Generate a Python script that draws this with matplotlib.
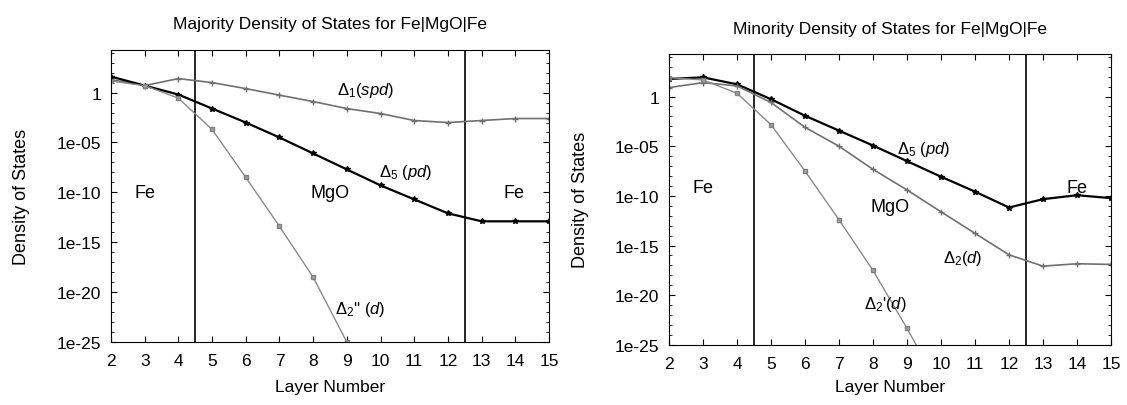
import matplotlib
matplotlib.use('Agg')
import matplotlib.pyplot as plt
import numpy as np

# layer numbers and log10 of density of states
layers = np.arange(2, 16)

maj_d1 = [1.3, 0.7, 1.4, 1.0, 0.4, -0.26, -0.9, -1.6, -2.1, -2.8, -3.0, -2.8, -2.6, -2.6]
maj_d5 = [1.6, 0.7, -0.2, -1.6, -3.0, -4.5, -6.1, -7.7, -9.3, -10.7, -12.1, -12.9, -12.9, -12.9]
maj_d2p_layers = np.arange(2, 10)
maj_d2p = [1.15, 0.7, -0.56, -3.7, -8.5, -13.4, -18.5, -25.0]

min_d5 = [1.77, 1.93, 1.23, -0.27, -1.93, -3.43, -4.93, -6.5, -8.07, -9.57, -11.17, -10.33, -9.93, -10.23]
min_d2 = [0.9, 1.4, 1.07, -0.6, -3.1, -5.0, -7.33, -9.4, -11.6, -13.77, -15.93, -17.07, -16.83, -16.9]
min_d2p_layers = np.arange(2, 11)
min_d2p = [1.9, 1.67, 0.33, -2.83, -7.5, -12.4, -17.5, -23.33, -29.5]

ytick_vals = [1, 1e-5, 1e-10, 1e-15, 1e-20, 1e-25]
ytick_labels = ['1', '1e-05', '1e-10', '1e-15', '1e-20', '1e-25']
boundaries = [4.5, 12.5]

plt.rcParams['font.family'] = ['Liberation Sans', 'DejaVu Sans']
plt.rcParams['mathtext.fontset'] = 'custom'
plt.rcParams['mathtext.rm'] = 'Liberation Sans'
plt.rcParams['mathtext.it'] = 'Liberation Sans:italic'

fig = plt.figure(figsize=(11.27, 4.06), dpi=100)
ax1 = fig.add_axes([0.0985, 0.155, 0.3886, 0.719])
ax2 = fig.add_axes([0.5936, 0.148, 0.3922, 0.717])


def style(ax, ytop, title, title_pad, xlab_y, ylab_x):
    ax.set_yscale('log')
    ax.set_xlim(2, 15)
    ax.set_ylim(1e-25, ytop)
    ax.set_xticks(range(2, 16))
    ax.set_yticks(ytick_vals)
    ax.set_yticklabels(ytick_labels)
    ax.yaxis.set_minor_locator(matplotlib.ticker.LogLocator(base=10, subs=[1.0], numticks=60))
    ax.yaxis.set_minor_formatter(matplotlib.ticker.NullFormatter())
    ax.tick_params(which='both', direction='in', top=True, right=True, labelsize=12.5)
    ax.tick_params(which='major', length=4)
    ax.tick_params(which='minor', length=2)
    ax.tick_params(axis='x', pad=8)
    ax.tick_params(axis='y', pad=7)
    for b in boundaries:
        ax.axvline(b, color='black', lw=1.2)
    ax.set_xlabel('Layer Number', fontsize=12.5)
    ax.set_ylabel('Density of States', fontsize=13)
    ax.xaxis.set_label_coords(0.5, xlab_y)
    ax.yaxis.set_label_coords(ylab_x, 0.5)
    ax.set_title(title, fontsize=12.5, pad=title_pad)


# Majority
style(ax1, 10**4.25, 'Majority Density of States for Fe|MgO|Fe', 16, -0.125, -0.186)
ax1.plot(layers, 10.0**np.array(maj_d1), color='#707070', lw=1.2, marker='+', ms=4)
ax1.plot(layers, 10.0**np.array(maj_d5), color='black', lw=1.6, marker='*', ms=4)
ax1.plot(maj_d2p_layers, 10.0**np.array(maj_d2p), color='#8a8a8a', lw=1.0, marker='s', ms=3.5,
         mfc='#a0a0a0', mec='#808080')
ax1.text(8.7, 10**0.33, r'$\Delta_1(spd)$', fontsize=12, va='center')
ax1.text(9.95, 10**-7.9, r'$\Delta_5\ (pd)$', fontsize=12, va='center')
ax1.text(8.66, 10**-21.6, r"$\Delta_2$'' $(d)$", fontsize=12, va='center')
ax1.text(3.0, 1e-10, 'Fe', fontsize=13, ha='center', va='center')
ax1.text(8.5, 1e-10, 'MgO', fontsize=13, ha='center', va='center')
ax1.text(13.95, 1e-10, 'Fe', fontsize=13, ha='center', va='center')

# Minority
style(ax2, 10**4.3, 'Minority Density of States for Fe|MgO|Fe', 15, -0.117, -0.182)
ax2.plot(layers, 10.0**np.array(min_d5), color='black', lw=1.6, marker='*', ms=4)
ax2.plot(layers, 10.0**np.array(min_d2), color='#707070', lw=1.2, marker='+', ms=4)
ax2.plot(min_d2p_layers, 10.0**np.array(min_d2p), color='#8a8a8a', lw=1.0, marker='s', ms=3.5,
         mfc='#a0a0a0', mec='#808080')
ax2.text(8.72, 10**-5.2, r'$\Delta_5\ (pd)$', fontsize=12, va='center')
ax2.text(10.05, 10**-16.2, r'$\Delta_2(d)$', fontsize=12, va='center')
ax2.text(7.73, 10**-20.8, r"$\Delta_2$'$(d)$", fontsize=12, va='center')
ax2.text(3.0, 10**-9.2, 'Fe', fontsize=13, ha='center', va='center')
ax2.text(8.5, 10**-11.1, 'MgO', fontsize=13, ha='center', va='center')
ax2.text(14.0, 10**-9.2, 'Fe', fontsize=13, ha='center', va='center')

plt.savefig('out.png', dpi=100)
plt.close()
